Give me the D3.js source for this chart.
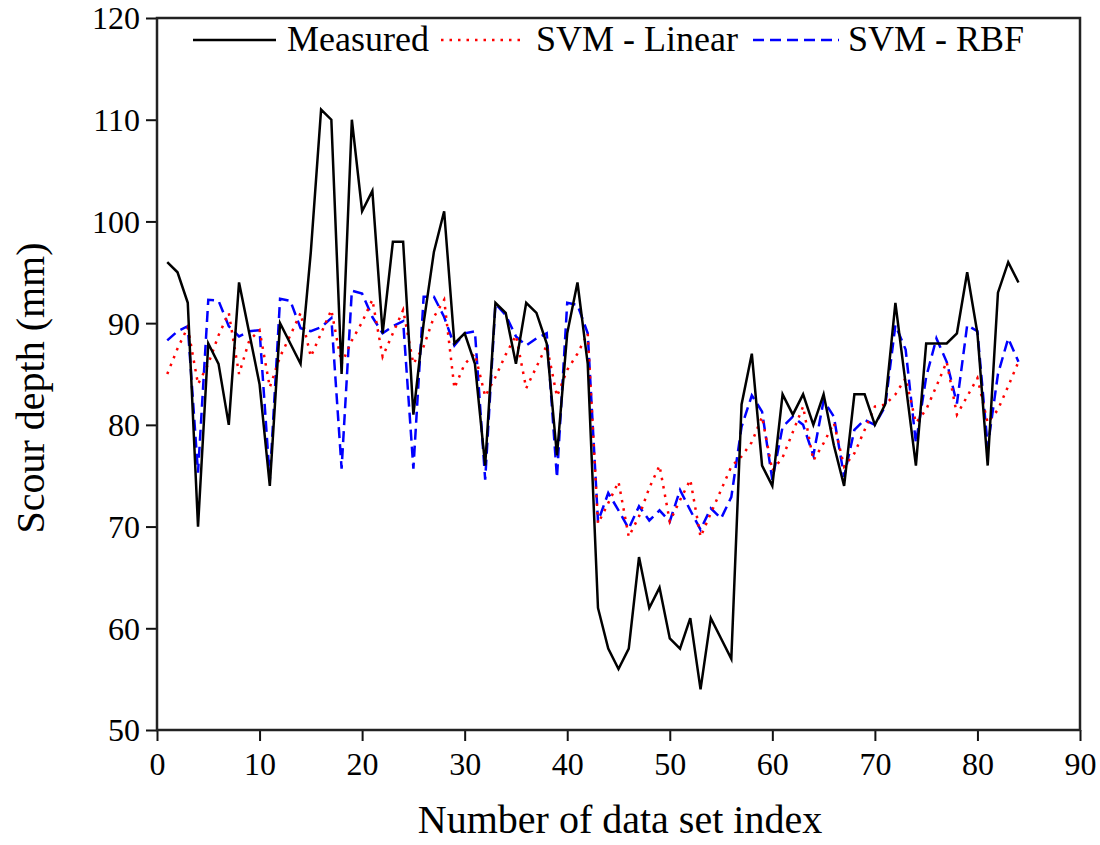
<!DOCTYPE html>
<html>
<head>
<meta charset="utf-8">
<script src="https://cdn.jsdelivr.net/npm/d3@7"></script>
<style>
  body { margin: 0; background: #fff; }
  svg text { font-family: "Liberation Serif", "Times New Roman", serif; fill: #000; }
</style>
</head>
<body>
<div id="chart"></div>
<script>
// values, data set index 1..84
const measured = [96, 95, 92, 70, 88, 86, 80, 94, 89, 84, 74, 90, 88, 86, 97, 111, 110, 85, 110, 101,
  103, 89, 98, 98, 81, 90, 97, 101, 88, 89, 86, 76, 92, 91, 86, 92, 91, 88, 77, 89,
  94, 86, 62, 58, 56, 58, 67, 62, 64, 59, 58, 61, 54, 61, 59, 57, 82, 87, 76, 74,
  83, 81, 83, 80, 83, 78, 74, 83, 83, 80, 82, 92, 84, 76, 88, 88, 88, 89, 95, 89,
  76, 93, 96, 94];
const svmLinear = [85, 87.5, 89.6, 84, 86, 88.8, 91, 85, 88.3, 89.3, 83.7, 86.7, 88.8, 91, 86.7, 89, 91.3, 86, 88.3, 90.1,
  92.3, 86.7, 89, 91.3, 86, 87.7, 90.6, 92.3, 83.6, 86, 87, 82.8, 84.7, 86.9, 88.8, 83.6, 85.7, 87.8, 82.8, 85.4,
  87, 89, 70.3, 72.3, 74.4, 69, 71, 73.8, 76, 70.5, 72.6, 74.6, 69, 71.3, 73.6, 75.9, 76.9, 78.3, 80.8, 75.5,
  76.8, 79.3, 81.8, 76.5, 78.2, 80.2, 75.9, 77.2, 79.5, 81.8, 82, 83, 84.6, 80.2, 81.5, 83.8, 86.2, 81, 82.8, 84.6,
  80.2, 81.5, 83.8, 86.2];
const svmRbf = [88.3, 89.2, 89.7, 75.3, 92.3, 92.2, 89.7, 88.7, 89.2, 89.3, 74.6, 92.4, 92.2, 89.5, 89.2, 89.6, 90.5, 75.7, 93.2, 92.9,
  90.6, 89, 89.7, 90.2, 75.7, 92.6, 92.6, 90.6, 87.8, 89, 89.2, 74.6, 91.9, 90.8, 88.7, 87.8, 88.5, 89, 74.8, 92,
  91.8, 89, 70.5, 73.3, 71.6, 69.8, 72, 70.6, 71.6, 70.5, 73.6, 71.6, 69.7, 71.8, 70.8, 72.9, 79.8, 82.9, 81.3, 74.6,
  79.8, 80.8, 80, 77, 82.4, 80.8, 74.9, 79.5, 80.5, 80, 81.8, 89.8, 87.4, 78.2, 84.7, 88.5, 86.2, 82.1, 89.8, 89.2,
  77.8, 85, 88.5, 86.2];

const seriesNames = ['Measured', 'SVM - Linear', 'SVM - RBF'];
const xTicks = [0, 10, 20, 30, 40, 50, 60, 70, 80, 90];
const yTicks = [50, 60, 70, 80, 90, 100, 110, 120];

const width = 1100, height = 845;
const margin = { top: 18, right: 20, bottom: 115, left: 157 };
const innerW = width - margin.left - margin.right;
const innerH = height - margin.top - margin.bottom;

const svg = d3.select('#chart').append('svg')
  .attr('width', width)
  .attr('height', height);

const g = svg.append('g')
  .attr('transform', `translate(${margin.left},${margin.top})`);

const x = d3.scaleLinear().domain([0, 90]).range([0, innerW]);
const y = d3.scaleLinear().domain([50, 120]).range([innerH, 0]);

// axes
const xAxis = g.append('g')
  .attr('transform', `translate(0,${innerH})`)
  .call(d3.axisBottom(x).tickValues(xTicks).tickSize(11).tickPadding(8));
const yAxis = g.append('g')
  .call(d3.axisLeft(y).tickValues(yTicks).tickSize(11).tickPadding(6));

[xAxis, yAxis].forEach(a => {
  a.select('.domain').remove();
  a.selectAll('line').attr('stroke', '#111').attr('stroke-width', 2);
  a.selectAll('text').attr('font-size', 32).attr('fill', '#000');
});
xAxis.selectAll('text').attr('dy', '0.8em');
yAxis.selectAll('text').attr('dy', '0.34em');

// frame
g.append('rect')
  .attr('width', innerW)
  .attr('height', innerH)
  .attr('fill', 'none')
  .attr('stroke', '#222')
  .attr('stroke-width', 2.5);

const styles = [
  { data: measured, color: '#000', dash: null },
  { data: svmLinear, color: '#ff0000', dash: '2.5,6' },
  { data: svmRbf, color: '#0000ff', dash: '11,6' }
];

const line = d3.line()
  .x((d, i) => x(i + 1))
  .y(d => y(d));

// draw RBF first, then linear, then measured on top
[styles[2], styles[1], styles[0]].forEach(s => {
  g.append('path')
    .datum(s.data)
    .attr('fill', 'none')
    .attr('stroke', s.color)
    .attr('stroke-width', 2.5)
    .attr('stroke-dasharray', s.dash)
    .attr('d', line);
});

// legend
const legendItems = [
  { x1: 193, x2: 276, tx: 287 },
  { x1: 441, x2: 524, tx: 536 },
  { x1: 753, x2: 839, tx: 848 }
];
const legend = svg.append('g');
legendItems.forEach((it, i) => {
  legend.append('line')
    .attr('x1', it.x1).attr('x2', it.x2)
    .attr('y1', 40).attr('y2', 40)
    .attr('stroke', styles[i].color)
    .attr('stroke-width', 2.5)
    .attr('stroke-dasharray', styles[i].dash);
  legend.append('text')
    .attr('x', it.tx)
    .attr('y', 51)
    .attr('font-size', 36)
    .text(seriesNames[i]);
});

// axis titles
svg.append('text')
  .attr('x', 620)
  .attr('y', 833)
  .attr('text-anchor', 'middle')
  .attr('font-size', 40)
  .text('Number of data set index');

svg.append('text')
  .attr('transform', `translate(44,388) rotate(-90)`)
  .attr('text-anchor', 'middle')
  .attr('font-size', 40)
  .text('Scour depth (mm)');
</script>
</body>
</html>
